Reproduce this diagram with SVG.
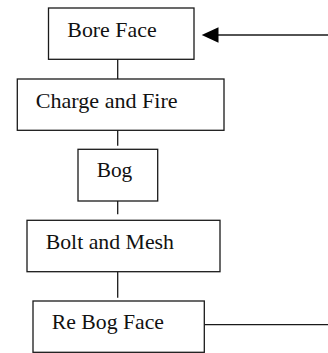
<svg xmlns="http://www.w3.org/2000/svg" width="328" height="353" viewBox="0 0 328 353">
<style>
.box{fill:#fff;stroke:#1a1a1a;stroke-width:1.3}
.lbl{font-family:"Liberation Serif","Times New Roman",serif;font-size:22px;fill:#111}
.con{stroke:#1a1a1a;stroke-width:1.3;fill:none}
</style>
<rect width="328" height="353" fill="#fff"/>
<g id="connectors">
<line class="con" x1="117.7" y1="59" x2="117.7" y2="79"/>
<line class="con" x1="117.7" y1="130" x2="117.7" y2="145.7"/>
<line class="con" x1="117.7" y1="201" x2="117.7" y2="214.3"/>
<line class="con" x1="117.7" y1="269" x2="117.7" y2="297.7"/>
<line class="con" x1="204.3" y1="324.7" x2="328" y2="324.7"/>
<path class="con" d="M328,35 L218,35"/>
<path d="M201.7,35 L218.5,27.3 L218.5,42.7 Z" fill="#000"/>
</g>
<g id="bore-face">
<rect class="box" x="48.5" y="8" width="145.5" height="51.3"/>
<text class="lbl" x="67.3" y="36.7" textLength="89.3" lengthAdjust="spacingAndGlyphs">Bore Face</text>
</g>
<g id="charge-and-fire">
<rect class="box" x="17.3" y="79" width="206.7" height="51.3"/>
<text class="lbl" x="35.7" y="108.3" textLength="142" lengthAdjust="spacingAndGlyphs">Charge and Fire</text>
</g>
<g id="bog">
<rect class="box" x="78" y="149.3" width="79.7" height="51.7"/>
<text class="lbl" x="96.7" y="177.3" textLength="35.6" lengthAdjust="spacingAndGlyphs">Bog</text>
</g>
<g id="bolt-and-mesh">
<rect class="box" x="27" y="220.3" width="193" height="51.4"/>
<text class="lbl" x="45.7" y="248.7" textLength="128.3" lengthAdjust="spacingAndGlyphs">Bolt and Mesh</text>
</g>
<g id="re-bog-face">
<rect class="box" x="33" y="301" width="171.3" height="51.3"/>
<text class="lbl" x="51.7" y="329.3" textLength="112.3" lengthAdjust="spacingAndGlyphs">Re Bog Face</text>
</g>
</svg>
